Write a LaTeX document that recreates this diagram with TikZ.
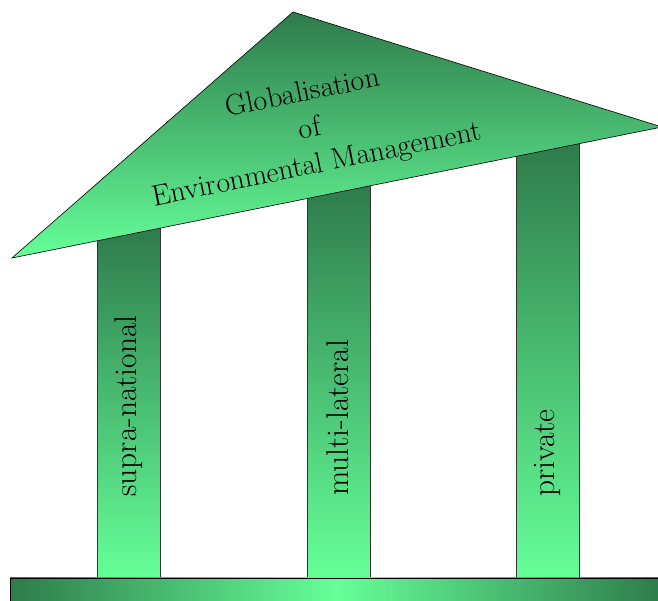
\documentclass[tikz,border=0pt]{standalone}
\definecolor{templedark}{RGB}{46,123,75}
\definecolor{templelight}{RGB}{102,255,153}
\tikzset{
  pillar/.style={draw=black!80, line width=0.6pt, top color=templedark, bottom color=templelight},
  pillartext/.style={rotate=90, font=\fontsize{31.5}{34}\selectfont, inner sep=0pt}
}
\begin{document}
\begin{tikzpicture}[x=1pt, y=1pt]
            \useasboundingbox (0,0) rectangle (658,601);
            \draw[pillar] (97,23) rectangle (160,374);
            \draw[pillar] (307,23) rectangle (370,417);
            \draw[pillar] (516,23) rectangle (579,459);
            \draw[line width=0.6pt, left color=templedark, right color=templedark, middle color=templelight] (10,-2) rectangle (662,23);
            \draw[line width=0.6pt, top color=templedark, bottom color=templelight] (293,589) -- (662,474) -- (12,343) -- cycle;
            \node[rotate=11.4, align=center, font=\fontsize{29.5}{36.5}\selectfont, inner sep=0pt] (roof) at (310,471) {Globalisation\\of\\Environmental Management};
            \node[pillartext] (supra) at (129,195) {supra-national};
            \node[pillartext] (multi) at (338,183) {multi-lateral};
            \node[pillartext] (private) at (547,148) {private};
        \end{tikzpicture}
\end{document}
